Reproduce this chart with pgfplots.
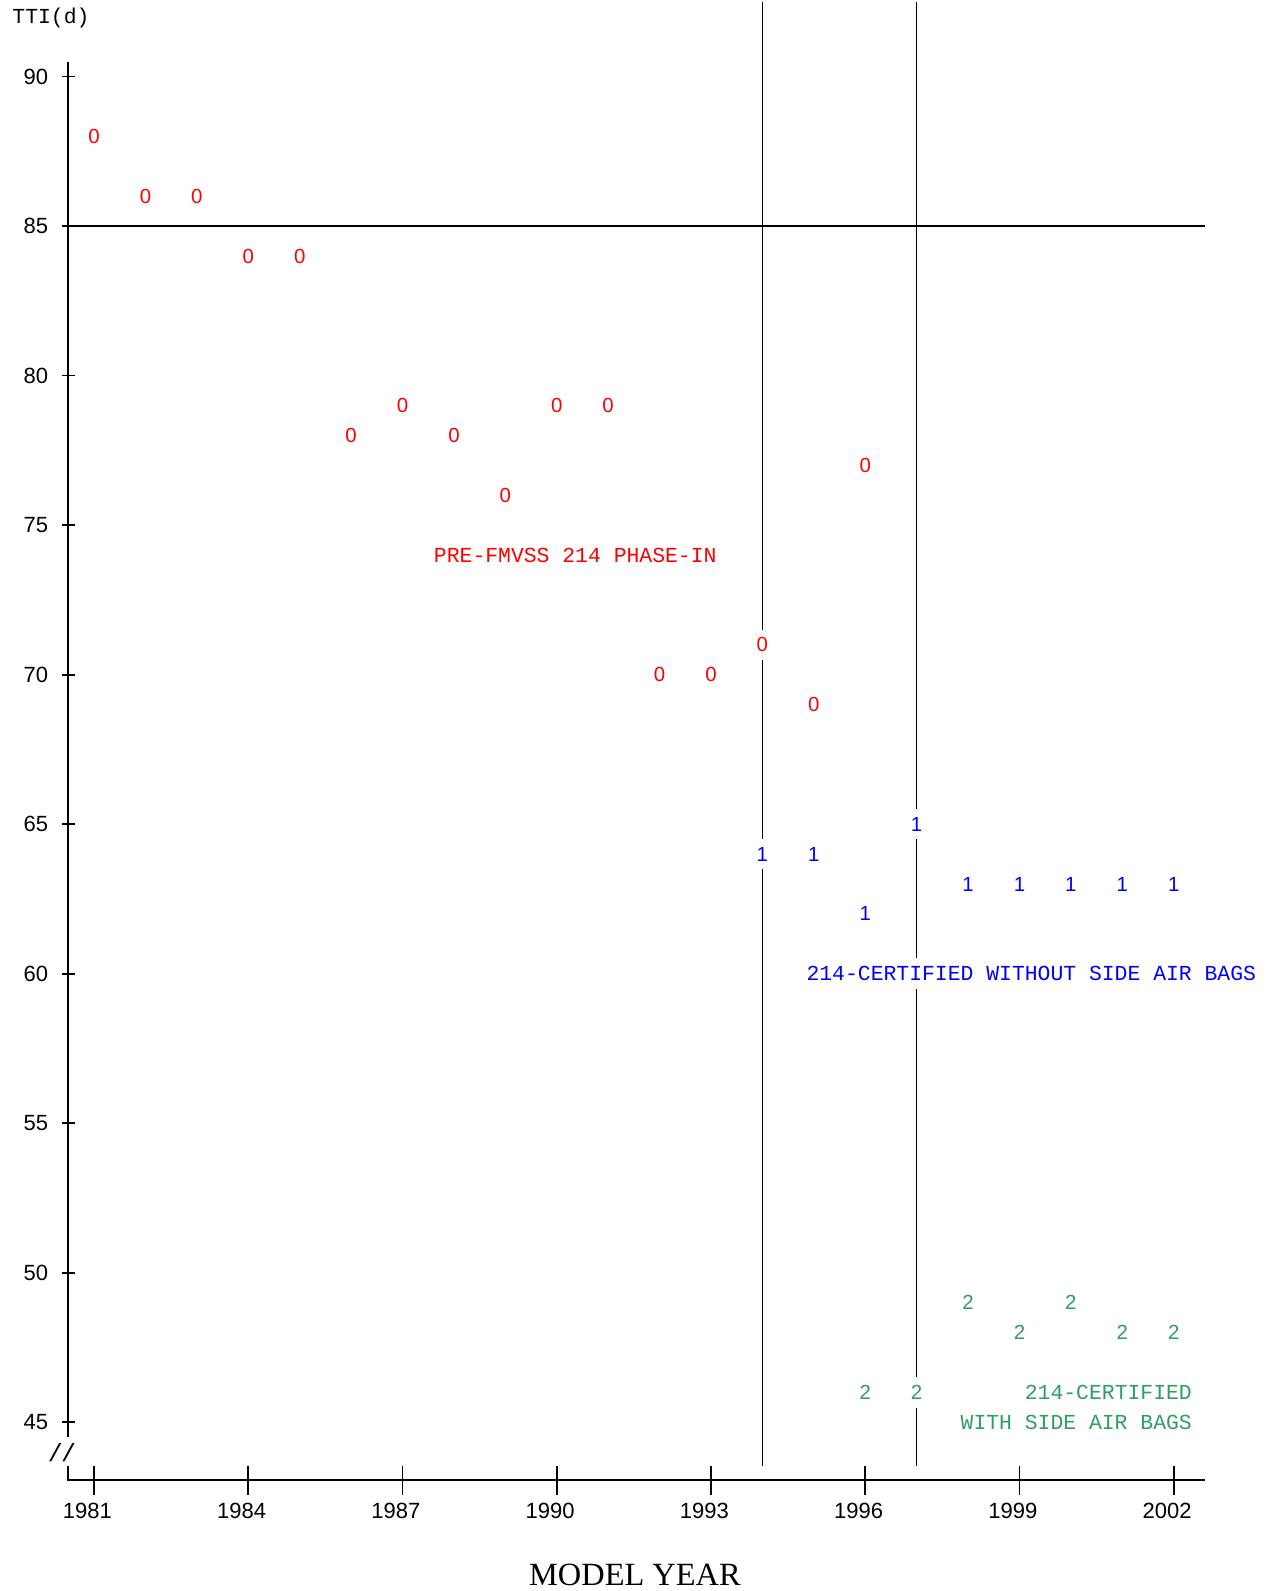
\documentclass[border=0pt]{standalone}
\usepackage{fontspec}
\setmainfont{Liberation Sans}
\newfontfamily\monofont{Liberation Mono}
\newfontfamily\seriffont{Liberation Serif}
\usepackage{pgfplots}
\pgfplotsset{compat=1.18}

\definecolor{preRed}{RGB}{255,0,0}
\definecolor{noBagBlue}{RGB}{0,0,255}
\definecolor{bagGreen}{RGB}{46,158,98}

\newcommand\mono{\monofont\fontsize{10.7}{12}\selectfont}
\newcommand\digitfont{\fontsize{10.2}{12}\selectfont}

\pgfplotsset{
  digit mark/.style 2 args={
    draw=none, mark=none,
    nodes near coords={#1},
    every node near coord/.style={font=\digitfont, text=#2, fill=white, draw=none,
      anchor=center, inner xsep=1.5pt, inner ysep=4pt},
  },
}

\begin{document}
\begin{tikzpicture}
\begin{axis}[
  scale only axis, width=568.5pt, height=739pt,
  xmin=1980.494, xmax=2002.61, ymin=43.07, ymax=92.5,
  axis lines=left, axis line style={draw=none},
  clip=false,
  xtick={1981,1984,1987,1990,1993,1996,1999,2002},
  xticklabels={1981,1984,1987,1990,1993,1996,1999,2002},
  ytick={45,50,55,60,65,70,75,80,85,90},
  x tick style={draw=none},
  y tick style={black, line width=0.8pt},
  major tick length=6.5pt,
  tick align=center,
  ticklabel style={font=\fontsize{11}{13}\selectfont},
  /pgf/number format/assume math mode=true,
  xticklabel style={anchor=north, inner sep=0pt, yshift=-8.3pt, xshift=-3.35pt},
  yticklabel style={anchor=east, inner sep=0pt, xshift=-6.5pt},
]
% page extent
\path (axis cs:1979.171,39.358) rectangle (axis cs:2003.857,92.565);

% axis lines with a break near the bottom of the y axis
\draw[line width=0.8pt] (axis cs:1980.494,90.49) -- (axis cs:1980.494,44.52);
\draw[line width=0.8pt] (axis cs:1980.494,43.55) -- (axis cs:1980.494,43.07)
  -- (axis cs:2002.61,43.07);
\node[font=\monofont\fontsize{12.5}{14}\selectfont, inner sep=0pt] at (axis cs:1980.377,44.0) {/\kern-1pt/};
\draw[line width=0.8pt] (axis cs:1981,43.54) -- (axis cs:1981,42.57);
\draw[line width=0.8pt] (axis cs:1984,43.54) -- (axis cs:1984,42.57);
\draw[line width=0.8pt] (axis cs:1987,43.54) -- (axis cs:1987,42.57);
\draw[line width=0.8pt] (axis cs:1990,43.54) -- (axis cs:1990,42.57);
\draw[line width=0.8pt] (axis cs:1993,43.54) -- (axis cs:1993,42.57);
\draw[line width=0.8pt] (axis cs:1996,43.54) -- (axis cs:1996,42.57);
\draw[line width=0.8pt] (axis cs:1999,43.54) -- (axis cs:1999,42.57);
\draw[line width=0.8pt] (axis cs:2002,43.54) -- (axis cs:2002,42.57);

% reference lines
\addplot[black, line width=0.8pt] coordinates {(1980.494,85) (2002.61,85)};
\addplot[black, line width=0.8pt] coordinates {(1994,92.5) (1994,43.54)};
\addplot[black, line width=0.8pt] coordinates {(1997,92.5) (1997,43.54)};

% pre-FMVSS 214 phase-in
\addplot[digit mark={0}{preRed}] coordinates {
  (1981,88) (1982,86) (1983,86) (1984,84) (1985,84) (1986,78) (1987,79)
  (1988,78) (1989,76) (1990,79) (1991,79) (1992,70) (1993,70) (1994,71)
  (1995,69) (1996,77)
};
% 214-certified without side air bags
\addplot[digit mark={1}{noBagBlue}] coordinates {
  (1994,64) (1995,64) (1996,62) (1997,65) (1998,63) (1999,63) (2000,63)
  (2001,63) (2002,63)
};
% 214-certified with side air bags
\addplot[digit mark={2}{bagGreen}] coordinates {
  (1996,46) (1997,46) (1998,49) (1999,48) (2000,49) (2001,48) (2002,48)
};

\node[font=\mono, text=preRed, inner sep=0pt] at (axis cs:1990.36,74) {PRE-FMVSS 214 PHASE-IN};
\node[font=\mono, text=noBagBlue, fill=white, inner xsep=0pt, inner ysep=4pt] at (axis cs:1999.23,60) {214-CERTIFIED WITHOUT SIDE AIR BAGS};
\node[font=\mono, text=bagGreen, inner sep=0pt, anchor=east] at (axis cs:2002.36,46) {214-CERTIFIED};
\node[font=\mono, text=bagGreen, inner sep=0pt, anchor=east] at (axis cs:2002.36,45) {WITH SIDE AIR BAGS};

\node[font=\mono, inner sep=0pt, anchor=west] at (axis cs:1979.405,91.95) {TTI(d)};
\node[font=\seriffont\fontsize{16.2}{18}\selectfont, inner sep=0pt, anchor=base] at (axis cs:1991.52,39.54) {MODEL YEAR};
\end{axis}
\end{tikzpicture}
\end{document}
